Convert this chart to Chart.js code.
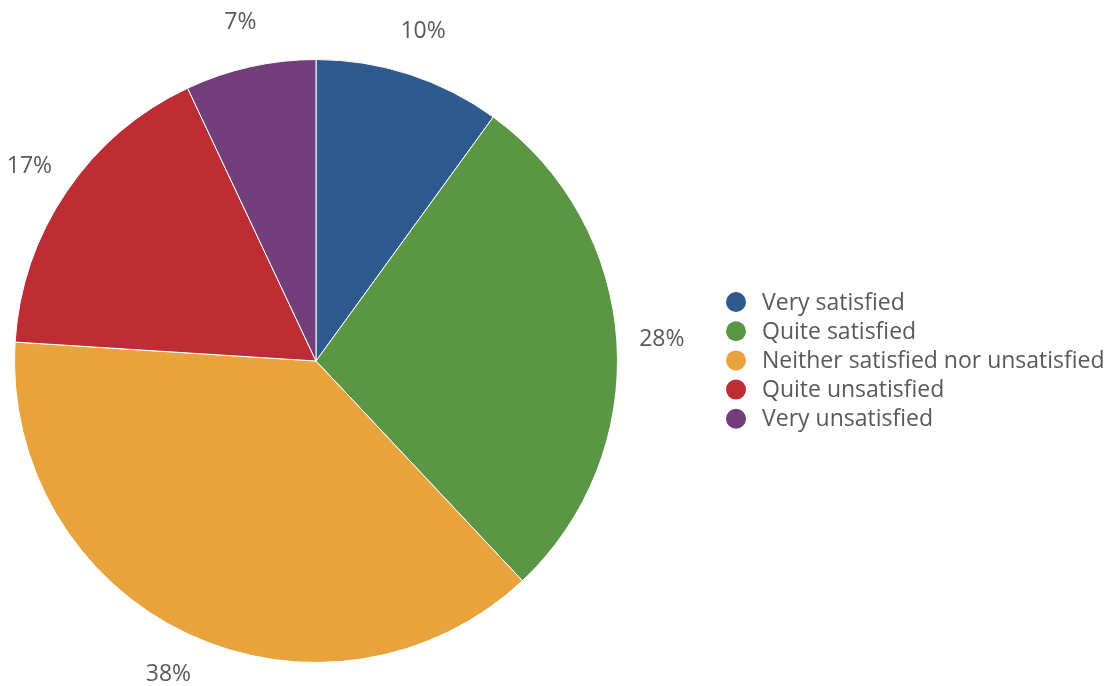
<!DOCTYPE html>
<html>
<head>
<meta charset="utf-8">
<script src="https://cdn.jsdelivr.net/npm/chart.js@4/dist/chart.umd.min.js"></script>
<style>
  html, body { margin: 0; padding: 0; background: #fff; }
  #wrap { width: 1112px; height: 686px; }
</style>
</head>
<body>
<div id="wrap"><canvas id="satisfactionChart"></canvas></div>
<script>
// Survey answers
const categories = ["Very satisfied", "Quite satisfied", "Neither satisfied nor unsatisfied", "Quite unsatisfied", "Very unsatisfied"];
const shares = [10, 28, 38, 17, 7];
const sliceColors = ["#2e5a8e", "#5b9645", "#e9a33c", "#bd2e34", "#723f7b"];

const textColor = "#595959";
const fontFamily = "'Open Sans', 'Noto Sans', sans-serif";

// Percent labels outside each slice, along the middle angle
const outsideLabels = {
    id: "outsideLabels",
    afterDatasetsDraw(chart) {
        const ctx = chart.ctx;
        const meta = chart.getDatasetMeta(0);
        ctx.save();
        ctx.font = "23px " + fontFamily;
        ctx.fillStyle = textColor;
        ctx.textAlign = "center";
        ctx.textBaseline = "middle";
        meta.data.forEach((arc, i) => {
            const mid = (arc.startAngle + arc.endAngle) / 2;
            const r = arc.outerRadius + 45;
            const x = arc.x + Math.cos(mid) * r;
            const y = arc.y + Math.sin(mid) * r;
            ctx.fillText(shares[i] + "%", x, y);
        });
        ctx.restore();
    }
};

// Legend on the right with round markers
const sideLegend = {
    id: "sideLegend",
    afterDraw(chart) {
        const ctx = chart.ctx;
        const left = 736;
        const top = 302;
        const rowHeight = 29.2;
        ctx.save();
        ctx.font = "23px " + fontFamily;
        ctx.textBaseline = "middle";
        ctx.textAlign = "left";
        chart.data.labels.forEach((label, i) => {
            const y = top + i * rowHeight;
            ctx.beginPath();
            ctx.arc(left, y, 10, 0, Math.PI * 2);
            ctx.fillStyle = chart.data.datasets[0].backgroundColor[i];
            ctx.fill();
            ctx.fillStyle = textColor;
            ctx.fillText(label, left + 26, y + 1);
        });
        ctx.restore();
    }
};

new Chart(document.getElementById("satisfactionChart"), {
    type: "pie",
    data: {
        labels: categories,
        datasets: [{
            data: shares,
            backgroundColor: sliceColors,
            borderColor: "#ffffff",
            borderWidth: 1
        }]
    },
    options: {
        responsive: true,
        maintainAspectRatio: false,
        animation: false,
        layout: {
            padding: { left: 14, top: 59, right: 494, bottom: 23 }
        },
        plugins: {
            legend: { display: false },
            tooltip: { enabled: false }
        }
    },
    plugins: [outsideLabels, sideLegend]
});
</script>
</body>
</html>
